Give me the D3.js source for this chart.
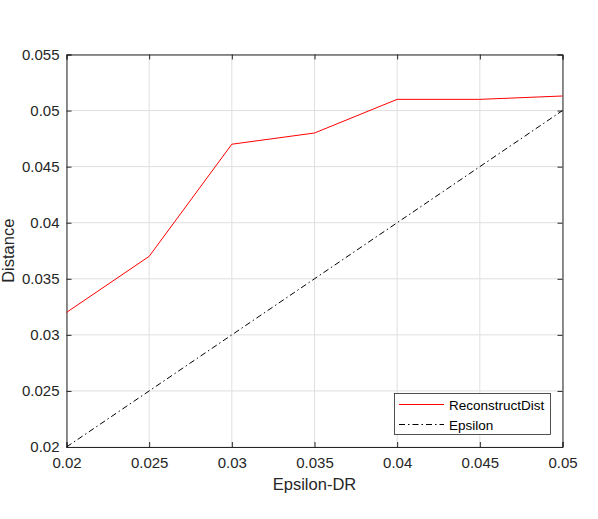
<!DOCTYPE html>
<html><head><meta charset="utf-8">
<script src="https://cdn.jsdelivr.net/npm/d3@7"></script>
<style>body{margin:0;background:#fff;} text{font-family:"Liberation Sans",Arial,sans-serif;}</style>
</head><body>
<svg id="c" width="598" height="519"></svg>
<script>
const xValues = [0.02, 0.025, 0.03, 0.035, 0.04, 0.045, 0.05];
const reconstructDist = [0.032, 0.037, 0.047, 0.048, 0.051, 0.051, 0.0513];
const epsilon = [0.02, 0.025, 0.03, 0.035, 0.04, 0.045, 0.05];
const xTicks = [0.02, 0.025, 0.03, 0.035, 0.04, 0.045, 0.05];
const yTicks = [0.02, 0.025, 0.03, 0.035, 0.04, 0.045, 0.05, 0.055];
const seriesNames = ["ReconstructDist", "Epsilon"];

const L = 66.5, R = 562.5, T = 54.5, B = 447;
const svg = d3.select("#c");
const x = d3.scaleLinear().domain([0.02, 0.05]).range([L, R]);
const y = d3.scaleLinear().domain([0.02, 0.055]).range([B, T]);
const axisCol = "#262626";
const fmt = d => String(+d.toFixed(4));

// grid
const g = svg.append("g");
g.selectAll(".gx").data(xTicks).join("line")
  .attr("x1", d => x(d)).attr("x2", d => x(d)).attr("y1", T).attr("y2", B)
  .attr("stroke", "#dfdfdf").attr("stroke-width", 1);
g.selectAll(".gy").data(yTicks).join("line")
  .attr("y1", d => y(d)).attr("y2", d => y(d)).attr("x1", L).attr("x2", R)
  .attr("stroke", "#dfdfdf").attr("stroke-width", 1);

// axes
const xb = svg.append("g").attr("transform", `translate(0,${B})`)
  .call(d3.axisBottom(x).tickValues(xTicks).tickFormat(fmt).tickSize(-5).tickPadding(9));
const xt = svg.append("g").attr("transform", `translate(0,${T})`)
  .call(d3.axisTop(x).tickValues(xTicks).tickFormat("").tickSize(-5));
const yl = svg.append("g").attr("transform", `translate(${L},0)`)
  .call(d3.axisLeft(y).tickValues(yTicks).tickFormat(fmt).tickSize(-5).tickPadding(7));
const yr = svg.append("g").attr("transform", `translate(${R},0)`)
  .call(d3.axisRight(y).tickValues(yTicks).tickFormat("").tickSize(-5));
[xb, xt, yl, yr].forEach(a => {
  a.attr("font-size", 15).attr("font-family", "'Liberation Sans', Arial, sans-serif");
  a.selectAll("path").attr("stroke", axisCol).attr("stroke-width", 1);
  a.selectAll("line").attr("stroke", axisCol).attr("stroke-width", 1);
  a.selectAll("text").attr("fill", axisCol);
});
xb.selectAll("text").attr("dy", null).attr("y", 21);

// lines
const line = d3.line().x((d, i) => x(xValues[i])).y(d => y(d));
svg.append("path").datum(epsilon).attr("d", line)
  .attr("fill", "none").attr("stroke", "#000").attr("stroke-width", 1)
  .attr("stroke-dasharray", "6,3,1.5,3");
svg.append("path").datum(reconstructDist).attr("d", line)
  .attr("fill", "none").attr("stroke", "#ff0000").attr("stroke-width", 1);

// labels
svg.append("text").attr("x", (L + R) / 2).attr("y", 489.5).attr("text-anchor", "middle")
  .attr("font-size", 16.5).attr("fill", axisCol).text("Epsilon-DR");
svg.append("text").attr("transform", `translate(14,${(T + B) / 2}) rotate(-90)`)
  .attr("text-anchor", "middle").attr("font-size", 16.5).attr("fill", axisCol).text("Distance");

// legend
const lg = svg.append("g");
lg.append("rect").attr("x", 394.5).attr("y", 393.5).attr("width", 156).attr("height", 41)
  .attr("fill", "#fff").attr("stroke", axisCol).attr("stroke-width", 0.8);
const styles = [{c: "#ff0000", d: null}, {c: "#000", d: "6,3,1.5,3"}];
seriesNames.forEach((n, i) => {
  const yy = 404.5 + i * 20;
  lg.append("line").attr("x1", 399).attr("x2", 444).attr("y1", yy).attr("y2", yy)
    .attr("stroke", styles[i].c).attr("stroke-width", 1)
    .attr("stroke-dasharray", styles[i].d);
  lg.append("text").attr("x", 449).attr("y", yy + 5).attr("font-size", 13.5)
    .attr("fill", "#000").text(n);
});
</script>
</body></html>
